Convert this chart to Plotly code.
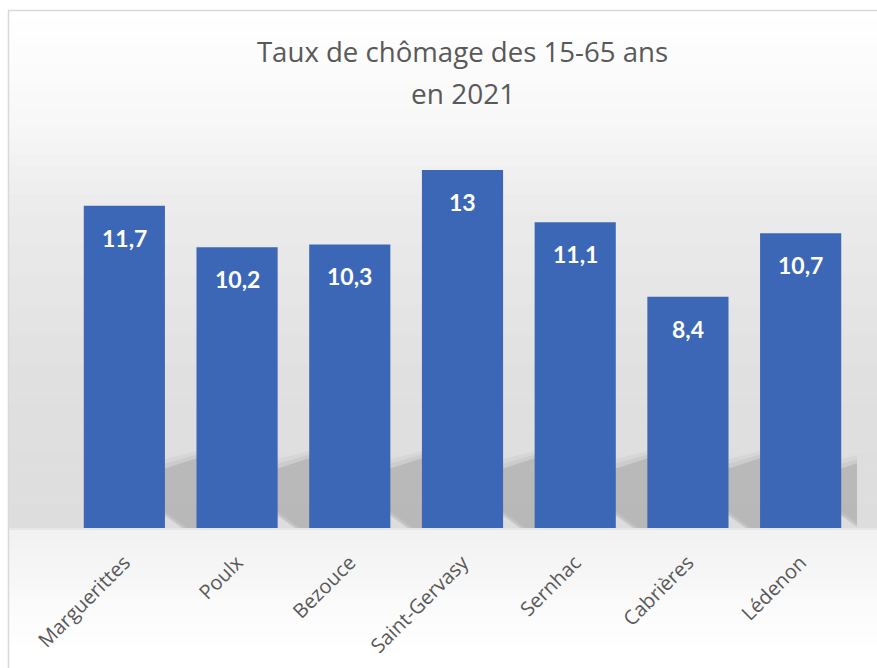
import plotly.graph_objects as go

communes = ["Marguerittes", "Poulx", "Bezouce", "Saint-Gervasy", "Sernhac", "Cabrières", "Lédenon"]
taux = [11.7, 10.2, 10.3, 13, 11.1, 8.4, 10.7]
labels = ["11,7", "10,2", "10,3", "13", "11,1", "8,4", "10,7"]

W, H = 877, 668
L, R, T, B = 68, 20, 129, 140
plot_h = H - T - B
BAR_W = 0.72

def py(y_px):
    return (H - B - y_px) / plot_h

def px(x_px):
    return (x_px - L) / (W - L - R)

fig = go.Figure()
fig.add_trace(go.Bar(
    x=communes, y=taux, width=BAR_W,
    marker=dict(color="#3b67b6", line=dict(width=0)),
    hoverinfo="skip",
))

annotations = []
for c, v, t in zip(communes, taux, labels):
    annotations.append(dict(x=c, y=v, text=t, showarrow=False, yshift=-32,
                            font=dict(family="Lato, Open Sans, sans-serif", size=23, color="white", weight="bold")))
annotations.append(dict(xref="paper", yref="paper", x=0.5, y=py(93), text="en 2021", showarrow=False,
                        xanchor="center", yanchor="middle",
                        font=dict(family="Open Sans, sans-serif", size=28, color="#595959")))

shapes = []
# background gradient bands
stops = [(10, 255), (120, 248), (200, 236), (380, 224), (528, 221), (530, 241), (645, 255), (668, 255)]
for i in range(len(stops) - 1):
    (y0, c0), (y1, c1) = stops[i], stops[i + 1]
    n = 12 if (y1 - y0) > 12 else 1
    for k in range(n):
        ya = y0 + (y1 - y0) * k / n
        yb = y0 + (y1 - y0) * (k + 1) / n
        c = int(round(c0 + (c1 - c0) * (k + 0.5) / n))
        shapes.append(dict(type="rect", xref="paper", yref="paper", layer="below",
                           x0=px(9), x1=px(W + 5), y0=py(ya), y1=py(yb + 0.5),
                           fillcolor=f"rgb({c},{c},{c})", line=dict(width=0)))

# soft shadows to the right of bars (decorative)
hw = BAR_W / 2
for i in range(len(communes)):
    xr = i + hw
    for d, alpha in [(0.05, 0.035), (0.025, 0.045), (0.0, 0.09)]:
        dy = d * 6
        pts = [(xr - 0.05 - d, 0.6 + dy), (xr + 0.15 + d, 0.0), (xr + 0.33 + d, 0.0),
               (xr + 0.33 + d, 2.6 + dy), (xr - 0.05 - d, 2.1 + dy)]
        path = "M " + " L ".join(f"{x:.4f},{y:.4f}" for x, y in pts) + " Z"
        shapes.append(dict(type="path", xref="x", yref="y", layer="below", path=path,
                           fillcolor=f"rgba(0,0,0,{alpha})", line=dict(width=0)))

# border
shapes.append(dict(type="rect", xref="paper", yref="paper", layer="above",
                   x0=px(8.5), x1=px(W + 5), y0=py(10.5), y1=py(H + 5),
                   fillcolor="rgba(0,0,0,0)", line=dict(color="#d9d9d9", width=1.5)))

fig.update_layout(
    width=W, height=H,
    margin=dict(l=L, r=R, t=T, b=B, autoexpand=False),
    paper_bgcolor="white", plot_bgcolor="rgba(0,0,0,0)",
    title=dict(text="Taux de chômage des 15-65 ans", x=0.5, xref="paper", xanchor="center",
               y=1 - 52 / H, yanchor="middle",
               font=dict(family="Open Sans, sans-serif", size=27.6, color="#595959")),
    xaxis=dict(showgrid=False, showline=False, zeroline=False, tickangle=-45,
               tickfont=dict(family="Open Sans, sans-serif", size=20, color="#595959"),
               ticks="", fixedrange=True, automargin=False, range=[-0.5, 6.5],
               ticklabelstandoff=18),
    yaxis=dict(range=[0, 14.49], visible=False, showgrid=False, zeroline=False, fixedrange=True),
    showlegend=False,
    annotations=annotations,
    shapes=shapes,
)

fig.write_html("out.html", config={"displayModeBar": False},
               post_script="document.body.style.margin='0';document.body.style.padding='0';")
